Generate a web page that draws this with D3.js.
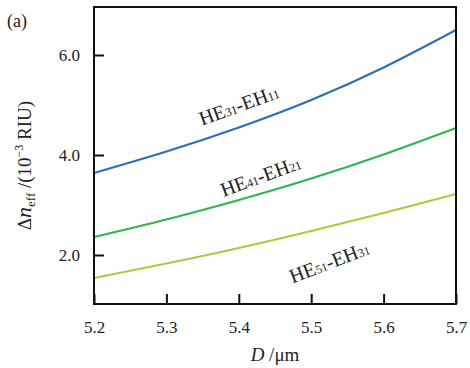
<!DOCTYPE html>
<html>
<head>
<meta charset="utf-8">
<script src="https://cdn.jsdelivr.net/npm/d3@7"></script>
<style>
  body { margin: 0; background: #fff; }
  text { font-family: "Liberation Serif", "DejaVu Serif", serif; fill: #222; }
</style>
</head>
<body>
<div id="chart"></div>
<script>
// diameter D (um)
const diam = [5.2, 5.3, 5.4, 5.5, 5.6, 5.7];
// delta n_eff (1e-3 RIU)
const he31 = [3.64, 4.07, 4.55, 5.10, 5.75, 6.50];
const he41 = [2.36, 2.71, 3.10, 3.53, 4.01, 4.54];
const he51 = [1.54, 1.83, 2.14, 2.48, 2.84, 3.22];
const xTicks = [5.2, 5.3, 5.4, 5.5, 5.6, 5.7];
const yTicks = [2.0, 4.0, 6.0];

const series = [
	{ data: he31, color: '#2b70b9', sub: ['31', '11'], at: [5.40, 5.0], rot: -20 },
	{ data: he41, color: '#30b64a', sub: ['41', '21'], at: [5.43, 3.58], rot: -20 },
	{ data: he51, color: '#a2cf3b', sub: ['51', '31'], at: [5.525, 1.86], rot: -21 },
];

const size = { width: 470, height: 368 };
const margin = { top: 7, right: 14, bottom: 64, left: 94 };
const w = size.width - margin.left - margin.right;
const h = size.height - margin.top - margin.bottom;

const scale = {
	x: d3.scaleLinear().domain([5.2, 5.7]).range([0, w]),
	y: d3.scaleLinear().domain([1.02, 6.96]).range([h, 0]),
};

const svg = d3.select('#chart').append('svg')
	.attr('width', size.width).attr('height', size.height);
const graph = svg.append('g')
	.attr('transform', `translate(${margin.left}, ${margin.top})`);

// axes, ticks inward
const ax = graph.append('g').attr('transform', `translate(0, ${h})`)
	.call(d3.axisBottom(scale.x).tickValues(xTicks).tickFormat(d3.format('.1f'))
		.tickSizeInner(-10).tickSizeOuter(0).tickPadding(17));
const ay = graph.append('g')
	.call(d3.axisLeft(scale.y).tickValues(yTicks).tickFormat(d3.format('.1f'))
		.tickSizeInner(-10).tickSizeOuter(0).tickPadding(14));
[ax, ay].forEach(a => {
	a.attr('font-family', '"Liberation Serif", serif').attr('font-size', 17);
	a.select('.domain').remove();
	a.selectAll('line').attr('stroke', '#111').attr('stroke-width', 2);
	a.selectAll('text').attr('fill', '#222');
});

const line = d3.line()
	.x((d, i) => scale.x(diam[i]))
	.y(d => scale.y(d))
	.curve(d3.curveNatural);

series.forEach(s => {
	graph.append('path').attr('d', line(s.data))
		.attr('fill', 'none').attr('stroke', s.color).attr('stroke-width', 2.2);
	const t = graph.append('text')
		.attr('transform', `translate(${scale.x(s.at[0])}, ${scale.y(s.at[1])}) rotate(${s.rot})`)
		.attr('text-anchor', 'middle').attr('dy', '0.35em').style('font-size', '20px');
	t.append('tspan').text('HE');
	t.append('tspan').text(s.sub[0]).style('font-size', '12px');
	t.append('tspan').text('-EH');
	t.append('tspan').text(s.sub[1]).style('font-size', '12px');
});

// frame
graph.append('rect').attr('width', w).attr('height', h)
	.attr('fill', 'none').attr('stroke', '#111').attr('stroke-width', 2);

// labels
svg.append('text').attr('x', 7).attr('y', 27).style('font-size', '18px').text('(a)');

const xl = svg.append('text')
	.attr('x', margin.left + w / 2).attr('y', 361)
	.attr('text-anchor', 'middle').style('font-size', '19px');
xl.append('tspan').text('D').style('font-style', 'italic');
xl.append('tspan').text(' /\u03bcm');

const yl = svg.append('text')
	.attr('transform', `translate(31, ${margin.top + h / 2 + 10}) rotate(-90)`)
	.attr('text-anchor', 'middle').style('font-size', '19px');
yl.append('tspan').text('\u0394');
yl.append('tspan').text('n').style('font-style', 'italic').style('font-size', '22px');
yl.append('tspan').text('eff').attr('dy', 4).style('font-size', '13px');
yl.append('tspan').text(' /(10').attr('dy', -4);
yl.append('tspan').text('\u22123').attr('dy', -8).style('font-size', '12px');
yl.append('tspan').text(' RIU)').attr('dy', 8);
</script>
</body>
</html>
